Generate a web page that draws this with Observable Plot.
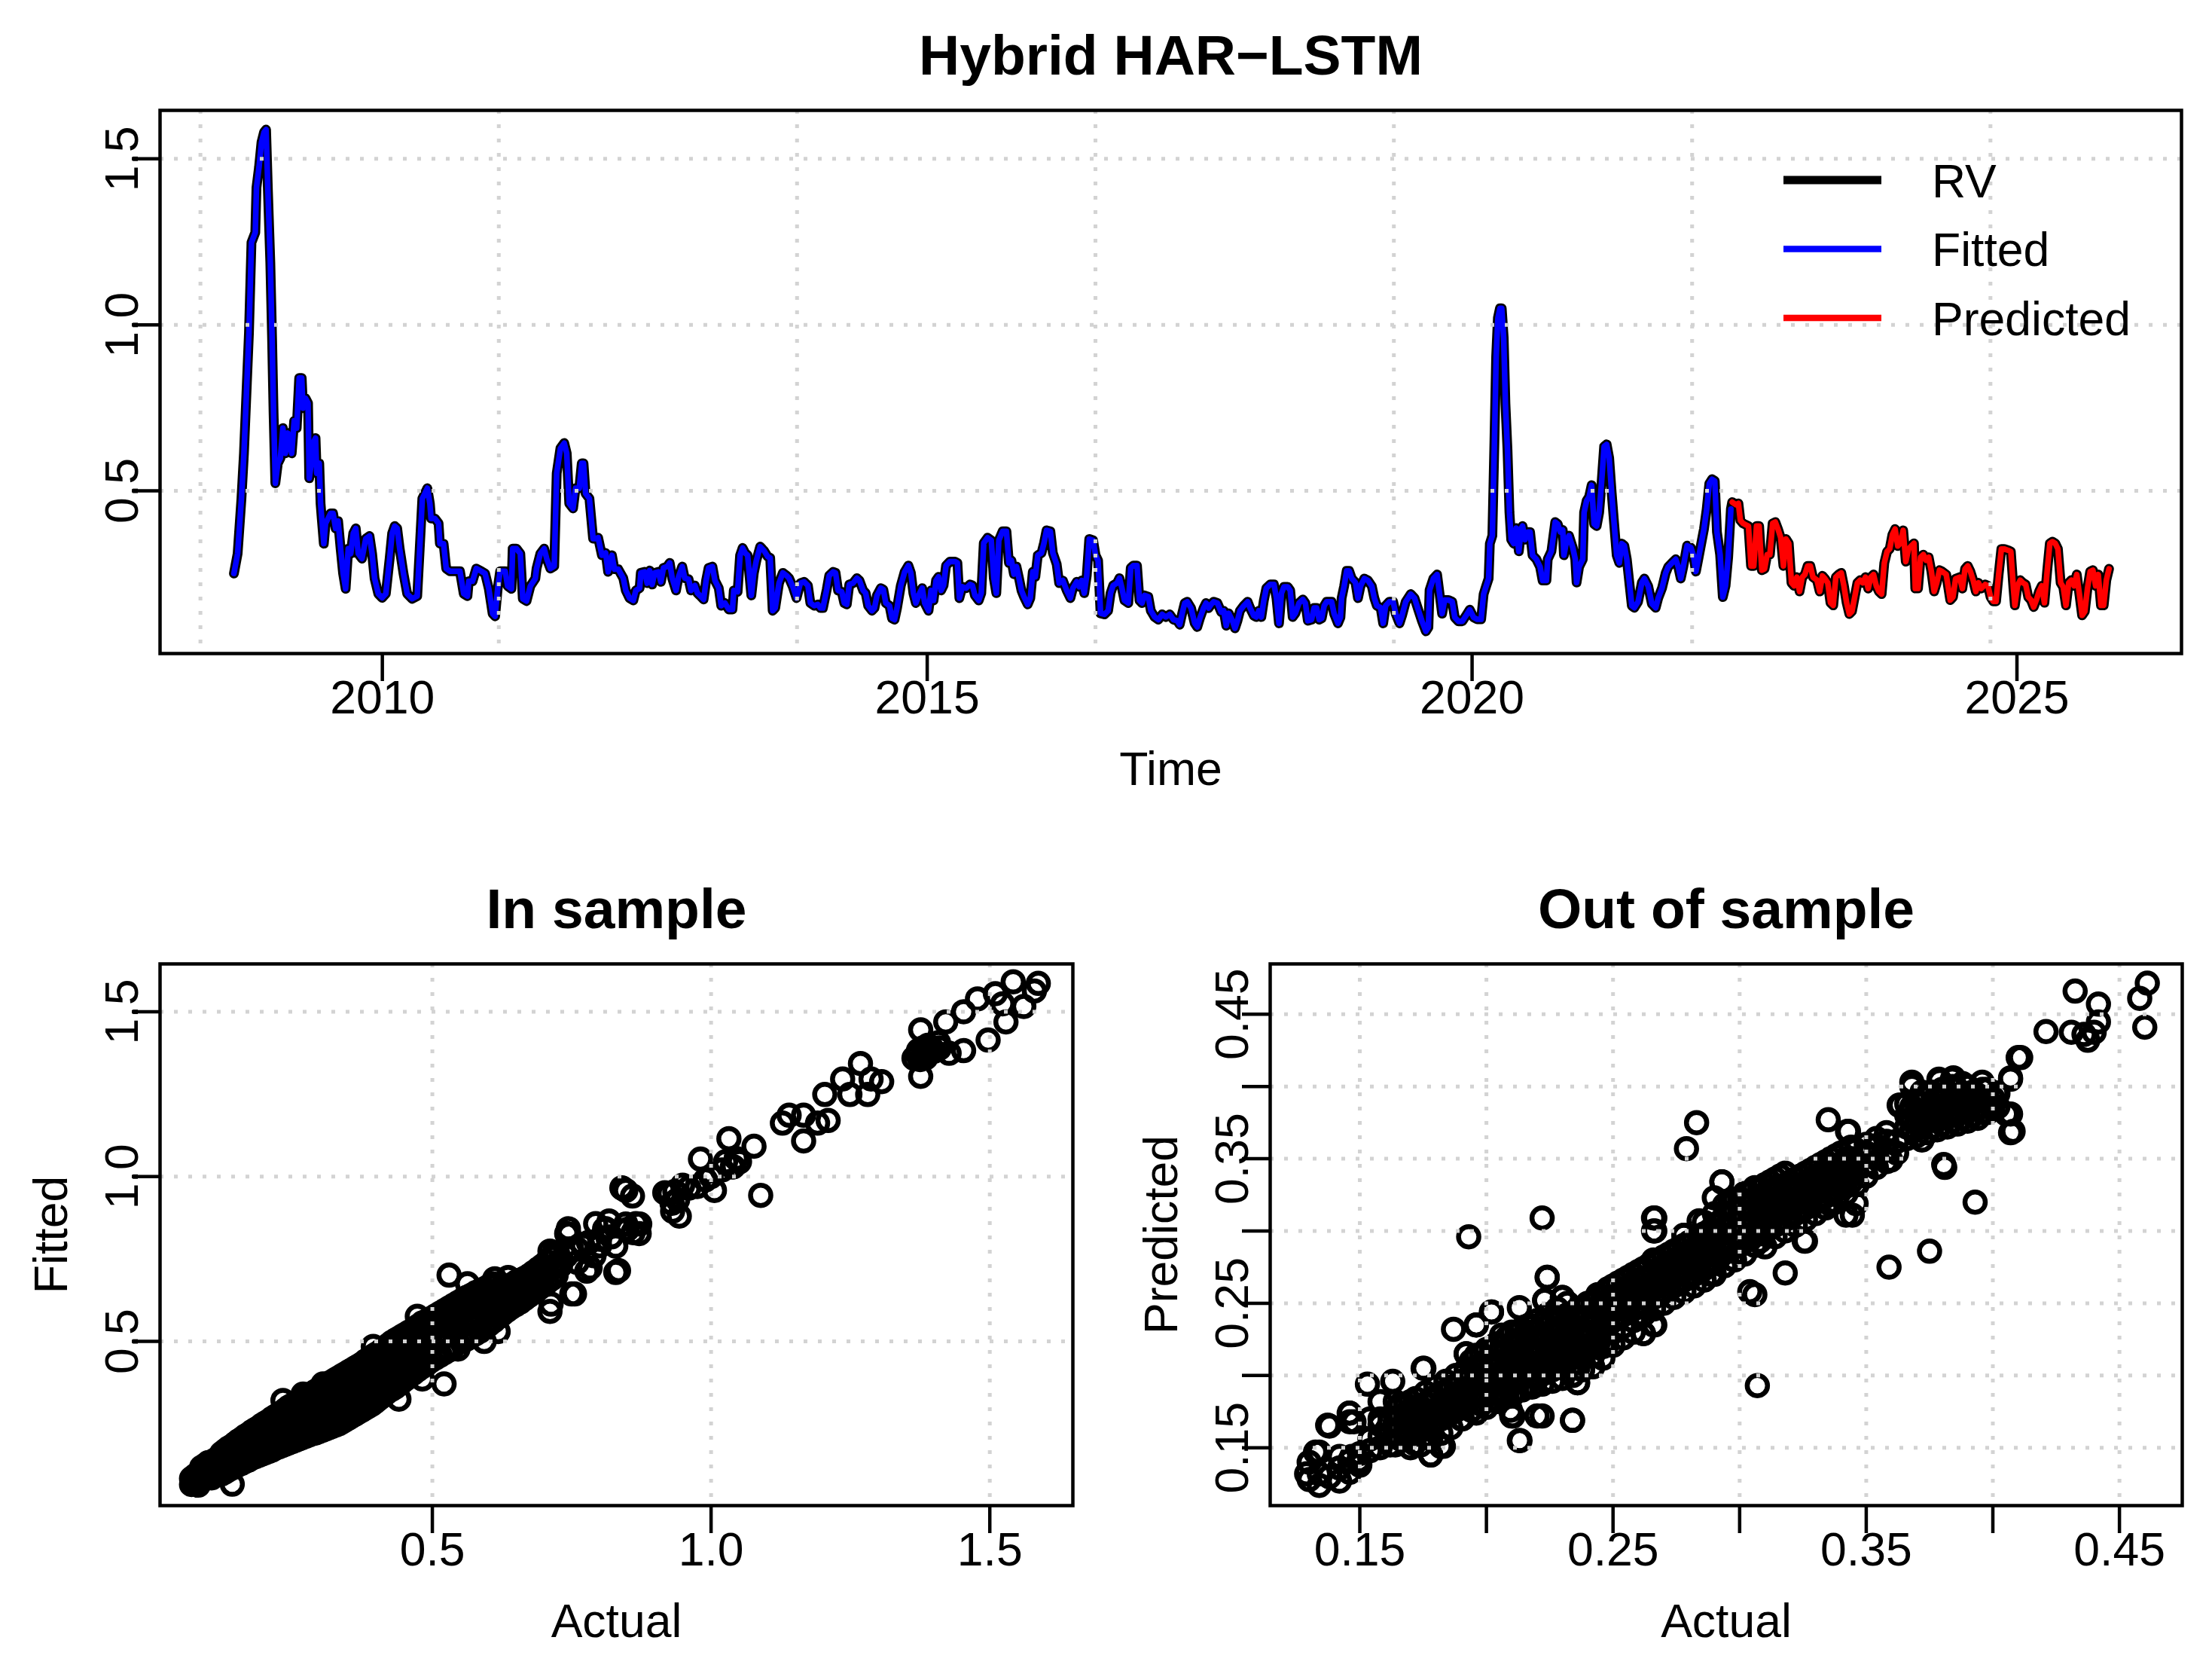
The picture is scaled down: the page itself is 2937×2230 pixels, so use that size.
<!DOCTYPE html>
<html><head><meta charset="utf-8">
<script src="https://cdn.jsdelivr.net/npm/d3@7"></script>
<script src="https://cdn.jsdelivr.net/npm/@observablehq/plot@0.6"></script>
<style>
html,body{margin:0;padding:0;background:#fff;}
#page{position:relative;width:2937px;height:2230px;background:#fff;overflow:hidden;}
.panel{position:absolute;}
.panel svg{max-width:none !important;display:block;}
</style></head><body><div id="page">
<div id="top" class="panel" style="left:0;top:0;width:2937px;height:1100px"></div>
<div id="bl" class="panel" style="left:0;top:1100px;width:1480px;height:1130px"></div>
<div id="br" class="panel" style="left:1480px;top:1100px;width:1457px;height:1130px"></div>
</div>
<script>
// ---------- text ----------
const mainTitle = "Hybrid HAR\u2212LSTM";
const inTitle = "In sample";
const outTitle = "Out of sample";
const legendLabels = ["RV", "Fitted", "Predicted"];
const legendColors = ["black", "#0000FF", "#FF0000"];

// ---------- ticks ----------
const timeTicks = [2010, 2015, 2020, 2025];
const gridDays = [14000, 15000, 16000, 17000, 18000, 19000, 20000]; // R Date grid (days since 1970)
const rvTicks = [0.5, 1.0, 1.5];
const oosTicks = [0.15, 0.20, 0.25, 0.30, 0.35, 0.40, 0.45];
const oosLabeled = [0.15, 0.25, 0.35, 0.45];

// ---------- time series: [decimal year, RV] (fitted / predicted follow RV at this scale) ----------
const inSampleRV = [
[2008.638,0.251],[2008.672,0.311],[2008.707,0.477],[2008.730,0.613],[2008.753,0.795],[2008.776,0.976],[2008.799,1.248],[2008.834,1.278],[2008.845,1.414],[2008.868,1.474],[2008.891,1.550],[2008.914,1.580],[2008.933,1.588],[2008.949,1.414],[2008.972,1.187],[2008.988,0.961],[2009.002,0.734],[2009.018,0.523],[2009.041,0.583],[2009.064,0.598],[2009.087,0.689],[2009.110,0.613],[2009.133,0.674],[2009.168,0.613],[2009.191,0.711],[2009.214,0.689],[2009.237,0.840],[2009.260,0.840],[2009.272,0.749],[2009.295,0.779],[2009.318,0.764],[2009.329,0.538],[2009.348,0.583],[2009.364,0.644],[2009.387,0.659],[2009.398,0.553],[2009.421,0.583],[2009.433,0.462],[2009.444,0.417],[2009.463,0.341],[2009.479,0.402],[2009.502,0.417],[2009.525,0.432],[2009.548,0.432],[2009.571,0.387],[2009.594,0.409],[2009.617,0.326],[2009.640,0.251],[2009.663,0.205],[2009.687,0.326],[2009.710,0.311],[2009.733,0.372],[2009.756,0.387],[2009.779,0.311],[2009.813,0.296],[2009.848,0.356],[2009.882,0.364],[2009.906,0.311],[2009.929,0.236],[2009.963,0.190],[2009.998,0.178],[2010.032,0.190],[2010.067,0.296],[2010.090,0.372],[2010.113,0.394],[2010.136,0.387],[2010.159,0.326],[2010.194,0.251],[2010.228,0.190],[2010.274,0.175],[2010.320,0.183],[2010.343,0.326],[2010.367,0.477],[2010.390,0.492],[2010.413,0.508],[2010.436,0.462],[2010.447,0.417],[2010.482,0.417],[2010.516,0.402],[2010.528,0.341],[2010.562,0.341],[2010.586,0.266],[2010.620,0.258],[2010.666,0.258],[2010.712,0.258],[2010.747,0.190],[2010.781,0.183],[2010.793,0.228],[2010.828,0.228],[2010.862,0.266],[2010.908,0.258],[2010.943,0.251],[2010.977,0.205],[2011.012,0.130],[2011.035,0.122],[2011.058,0.205],[2011.081,0.258],[2011.127,0.258],[2011.150,0.213],[2011.185,0.205],[2011.196,0.326],[2011.231,0.326],[2011.266,0.311],[2011.289,0.175],[2011.323,0.168],[2011.358,0.213],[2011.404,0.236],[2011.415,0.266],[2011.450,0.311],[2011.485,0.326],[2011.508,0.296],[2011.542,0.266],[2011.577,0.273],[2011.600,0.553],[2011.634,0.628],[2011.669,0.644],[2011.692,0.613],[2011.715,0.462],[2011.750,0.447],[2011.773,0.508],[2011.807,0.508],[2011.830,0.583],[2011.846,0.583],[2011.865,0.492],[2011.900,0.477],[2011.934,0.356],[2011.957,0.356],
[2011.980,0.359],[2012.015,0.306],[2012.049,0.313],[2012.072,0.256],[2012.107,0.306],[2012.130,0.264],[2012.165,0.264],[2012.211,0.237],[2012.234,0.200],[2012.268,0.177],[2012.303,0.170],[2012.326,0.200],[2012.361,0.207],[2012.372,0.253],[2012.407,0.256],[2012.430,0.222],[2012.453,0.260],[2012.476,0.218],[2012.499,0.253],[2012.533,0.256],[2012.556,0.226],[2012.580,0.268],[2012.614,0.272],[2012.637,0.283],[2012.660,0.237],[2012.695,0.200],[2012.718,0.241],[2012.752,0.272],[2012.775,0.237],[2012.810,0.234],[2012.833,0.200],[2012.868,0.215],[2012.891,0.192],[2012.914,0.185],[2012.948,0.173],[2012.971,0.230],[2012.994,0.268],[2013.029,0.272],[2013.052,0.230],[2013.087,0.207],[2013.110,0.154],[2013.144,0.162],[2013.179,0.143],[2013.213,0.143],[2013.225,0.200],[2013.260,0.196],[2013.283,0.306],[2013.306,0.328],[2013.329,0.313],[2013.352,0.306],[2013.386,0.185],[2013.409,0.253],[2013.432,0.290],[2013.467,0.332],[2013.502,0.320],[2013.536,0.302],[2013.559,0.298],[2013.582,0.139],[2013.605,0.147],[2013.640,0.222],[2013.675,0.253],[2013.709,0.245],[2013.732,0.237],[2013.767,0.211],[2013.801,0.177],[2013.836,0.222],[2013.870,0.226],[2013.905,0.215],[2013.928,0.162],[2013.963,0.154],[2013.997,0.158],[2014.020,0.147],[2014.043,0.147],[2014.078,0.203],[2014.101,0.245],[2014.136,0.256],[2014.159,0.253],[2014.182,0.200],[2014.216,0.196],[2014.239,0.162],[2014.262,0.158],[2014.285,0.218],[2014.320,0.222],[2014.355,0.237],[2014.378,0.230],[2014.412,0.200],[2014.435,0.192],[2014.458,0.154],[2014.493,0.139],[2014.516,0.147],[2014.539,0.185],[2014.574,0.207],[2014.597,0.203],[2014.620,0.162],[2014.654,0.154],[2014.677,0.116],[2014.700,0.112],[2014.723,0.147],[2014.758,0.215],[2014.793,0.256],[2014.827,0.275],[2014.850,0.253],[2014.873,0.192],[2014.896,0.162],[2014.931,0.192],[2014.954,0.207],[2014.977,0.162],[2015.012,0.139],[2015.035,0.200],[2015.058,0.170],[2015.081,0.230],[2015.104,0.241],[2015.127,0.200],[2015.150,0.215],[2015.173,0.275],[2015.208,0.287],[2015.254,0.287],
[2015.277,0.283],[2015.295,0.177],[2015.323,0.211],[2015.358,0.207],[2015.392,0.218],[2015.415,0.215],[2015.438,0.185],[2015.473,0.170],[2015.496,0.192],[2015.519,0.343],[2015.554,0.359],[2015.588,0.351],[2015.611,0.237],[2015.634,0.192],[2015.657,0.351],[2015.692,0.378],[2015.727,0.378],[2015.750,0.283],[2015.773,0.290],[2015.796,0.249],[2015.819,0.272],[2015.842,0.237],[2015.865,0.200],[2015.888,0.181],[2015.922,0.158],[2015.946,0.177],[2015.969,0.256],[2015.992,0.241],[2016.015,0.306],[2016.049,0.313],[2016.072,0.343],[2016.095,0.381],[2016.130,0.378],[2016.153,0.313],[2016.188,0.279],[2016.211,0.222],[2016.245,0.230],[2016.280,0.200],[2016.314,0.177],[2016.337,0.207],[2016.372,0.226],[2016.395,0.211],[2016.418,0.230],[2016.441,0.192],[2016.464,0.245],[2016.487,0.355],[2016.522,0.351],[2016.545,0.306],[2016.568,0.290],[2016.591,0.131],[2016.626,0.128],[2016.660,0.139],[2016.683,0.192],[2016.706,0.215],[2016.741,0.222],[2016.764,0.237],[2016.787,0.207],[2016.810,0.170],[2016.845,0.162],[2016.868,0.268],[2016.891,0.275],[2016.925,0.275],[2016.948,0.170],[2016.971,0.162],[2016.994,0.185],[2017.029,0.181],[2017.052,0.139],[2017.087,0.120],[2017.121,0.112],[2017.156,0.128],[2017.190,0.120],[2017.225,0.128],[2017.260,0.112],[2017.294,0.109],[2017.317,0.097],[2017.340,0.131],[2017.363,0.162],[2017.386,0.166],[2017.421,0.147],[2017.455,0.101],[2017.478,0.090],[2017.502,0.116],[2017.536,0.147],[2017.559,0.162],[2017.582,0.147],[2017.605,0.158],[2017.628,0.166],[2017.663,0.162],[2017.698,0.135],[2017.721,0.139],[2017.744,0.094],[2017.767,0.131],[2017.801,0.109],[2017.824,0.086],[2017.847,0.109],[2017.870,0.139],[2017.905,0.154],[2017.940,0.166],[2017.963,0.147],[2017.997,0.124],[2018.020,0.120],[2018.043,0.139],[2018.066,0.120],[2018.089,0.170],[2018.112,0.207],[2018.147,0.218],[2018.182,0.218],[2018.205,0.177],[2018.228,0.101],[2018.251,0.192],[2018.274,0.211],[2018.308,0.211],[2018.331,0.200],[2018.354,0.120],[2018.378,0.131],[2018.412,0.162],[2018.447,0.173],[2018.470,0.162],[2018.493,0.109],[2018.527,0.112],[2018.550,0.147],[2018.573,0.147],[2018.597,0.112],[2018.620,0.116],[2018.643,0.154],
[2018.665,0.166],[2018.711,0.166],[2018.734,0.130],[2018.769,0.101],[2018.792,0.119],[2018.803,0.177],[2018.826,0.213],[2018.849,0.259],[2018.872,0.259],[2018.896,0.236],[2018.930,0.224],[2018.953,0.177],[2018.976,0.213],[2019.011,0.236],[2019.045,0.230],[2019.080,0.213],[2019.103,0.177],[2019.126,0.154],[2019.161,0.148],[2019.184,0.101],[2019.207,0.154],[2019.241,0.166],[2019.276,0.166],[2019.299,0.130],[2019.334,0.101],[2019.357,0.124],[2019.391,0.166],[2019.437,0.189],[2019.472,0.177],[2019.506,0.142],[2019.541,0.107],[2019.576,0.077],[2019.599,0.089],[2019.610,0.201],[2019.645,0.236],[2019.679,0.248],[2019.702,0.189],[2019.725,0.130],[2019.748,0.171],[2019.783,0.171],[2019.818,0.166],[2019.841,0.119],[2019.875,0.107],[2019.910,0.107],[2019.944,0.124],[2019.979,0.142],[2020.014,0.119],[2020.048,0.113],[2020.083,0.113],[2020.106,0.189],[2020.129,0.213],[2020.152,0.236],[2020.163,0.341],[2020.186,0.365],[2020.205,0.646],[2020.221,0.904],[2020.237,1.021],[2020.256,1.050],[2020.272,1.050],[2020.290,0.962],[2020.306,0.763],[2020.325,0.623],[2020.343,0.435],[2020.359,0.353],[2020.382,0.341],[2020.405,0.388],[2020.429,0.318],[2020.452,0.388],[2020.463,0.394],[2020.486,0.353],[2020.509,0.376],[2020.532,0.376],[2020.555,0.306],[2020.590,0.294],[2020.624,0.271],[2020.647,0.230],[2020.682,0.230],[2020.694,0.294],[2020.728,0.318],[2020.763,0.406],[2020.786,0.400],[2020.809,0.376],[2020.832,0.382],[2020.843,0.306],[2020.866,0.347],[2020.889,0.365],[2020.924,0.329],[2020.947,0.294],[2020.959,0.224],[2020.982,0.271],[2021.016,0.294],[2021.028,0.435],[2021.051,0.470],[2021.074,0.482],[2021.097,0.517],[2021.120,0.400],[2021.143,0.394],[2021.166,0.435],[2021.189,0.528],[2021.212,0.634],[2021.235,0.640],[2021.258,0.599],[2021.281,0.494],[2021.304,0.400],[2021.327,0.306],[2021.351,0.283],[2021.374,0.341],[2021.397,0.335],[2021.420,0.294],[2021.443,0.224],[2021.466,0.154],[2021.489,0.148],[2021.523,0.166],[2021.558,0.224],[2021.581,0.236],[2021.616,0.213],[2021.650,0.160],[2021.685,0.148],[2021.708,0.177],[2021.743,0.207],[2021.777,0.253],[2021.800,0.271],[2021.835,0.283],[2021.869,0.294],[2021.892,0.271],[2021.915,0.236],[2021.938,0.271],[2021.973,0.335],[2022.008,0.329],[2022.031,0.306],
[2022.054,0.257],[2022.079,0.300],[2022.103,0.342],[2022.128,0.385],[2022.153,0.445],[2022.177,0.522],[2022.202,0.535],[2022.227,0.530],[2022.247,0.376],[2022.276,0.308],[2022.301,0.180],[2022.326,0.214],[2022.350,0.300],[2022.375,0.445]
];

const outSampleRV = [
[2022.387,0.466],[2022.424,0.458],[2022.444,0.462],[2022.462,0.411],[2022.486,0.402],[2022.511,0.398],[2022.536,0.394],[2022.560,0.274],[2022.585,0.274],[2022.610,0.394],[2022.634,0.394],[2022.659,0.261],[2022.684,0.265],[2022.708,0.308],[2022.733,0.308],[2022.758,0.402],[2022.783,0.406],[2022.807,0.385],[2022.832,0.359],[2022.857,0.274],[2022.881,0.355],[2022.906,0.342],[2022.931,0.223],[2022.955,0.214],[2022.980,0.240],[2023.005,0.197],[2023.030,0.240],[2023.054,0.248],[2023.079,0.274],[2023.104,0.274],[2023.128,0.240],[2023.165,0.231],[2023.190,0.197],[2023.215,0.244],[2023.239,0.235],[2023.264,0.223],[2023.289,0.163],[2023.314,0.155],[2023.338,0.240],[2023.363,0.248],[2023.388,0.253],[2023.412,0.214],[2023.437,0.163],[2023.462,0.129],[2023.486,0.137],[2023.511,0.180],[2023.536,0.223],[2023.561,0.231],[2023.585,0.223],[2023.610,0.240],[2023.635,0.206],[2023.659,0.240],[2023.684,0.248],[2023.709,0.214],[2023.733,0.197],[2023.758,0.189],[2023.783,0.283],[2023.808,0.317],[2023.832,0.325],[2023.857,0.368],[2023.882,0.385],[2023.906,0.334],[2023.931,0.342],[2023.956,0.381],[2023.980,0.287],[2024.005,0.325],[2024.030,0.334],[2024.055,0.342],[2024.067,0.206],[2024.092,0.206],[2024.116,0.300],[2024.141,0.308],[2024.166,0.291],[2024.190,0.300],[2024.215,0.257],[2024.240,0.197],[2024.264,0.223],[2024.289,0.261],[2024.314,0.257],[2024.351,0.248],[2024.388,0.171],[2024.413,0.180],[2024.437,0.235],[2024.474,0.240],[2024.499,0.206],[2024.524,0.265],[2024.548,0.274],[2024.573,0.257],[2024.598,0.231],[2024.623,0.197],[2024.647,0.223],[2024.672,0.206],[2024.709,0.218],[2024.734,0.214],[2024.758,0.180],[2024.783,0.167],[2024.808,0.167],[2024.832,0.248],[2024.857,0.325],[2024.882,0.325],[2024.919,0.321],[2024.944,0.317],[2024.968,0.206],[2024.981,0.155],[2025.005,0.214],[2025.030,0.231],[2025.055,0.223],[2025.080,0.218],[2025.104,0.180],[2025.129,0.171],[2025.154,0.150],[2025.178,0.171],[2025.203,0.197],[2025.228,0.214],[2025.252,0.163],[2025.277,0.257],[2025.302,0.342],[2025.326,0.347],[2025.351,0.342],[2025.376,0.325],[2025.401,0.223],[2025.425,0.210],[2025.450,0.155],[2025.475,0.223],[2025.499,0.231],[2025.524,0.214],[2025.549,0.248],[2025.573,0.189],[2025.598,0.125],[2025.623,0.137],[2025.647,0.206],[2025.672,0.257],[2025.697,0.261],[2025.722,0.214],[2025.746,0.248],[2025.771,0.155],[2025.796,0.155],[2025.820,0.231],[2025.845,0.265]
];

// ---------- in-sample scatter: [actual, fitted] ----------
const inSamplePoints = [
[0.068,0.066],[0.068,0.084],[0.074,0.072],[0.074,0.092],[0.074,0.070],[0.080,0.078],[0.080,0.098],[0.080,0.064],
[0.086,0.080],[0.086,0.100],[0.086,0.118],[0.092,0.084],[0.092,0.106],[0.092,0.124],[0.098,0.090],[0.098,0.112],[0.098,0.132],
[0.104,0.086],[0.104,0.108],[0.104,0.130],[0.110,0.094],[0.110,0.116],[0.110,0.140],[0.116,0.100],[0.116,0.122],[0.116,0.146],
[0.122,0.098],[0.122,0.120],[0.122,0.142],[0.122,0.160],[0.128,0.104],[0.128,0.128],[0.128,0.150],[0.128,0.168],
[0.134,0.110],[0.134,0.132],[0.134,0.156],[0.134,0.176],[0.140,0.116],[0.140,0.138],[0.140,0.162],[0.140,0.182],[0.141,0.067],
[0.146,0.120],[0.146,0.144],[0.146,0.168],[0.146,0.190],[0.152,0.126],[0.152,0.150],[0.152,0.174],[0.152,0.198],
[0.158,0.130],[0.158,0.154],[0.158,0.178],[0.158,0.204],[0.164,0.136],[0.164,0.160],[0.164,0.184],[0.164,0.212],
[0.170,0.140],[0.170,0.164],[0.170,0.190],[0.170,0.218],[0.176,0.146],[0.176,0.170],[0.176,0.196],[0.176,0.226],
[0.182,0.150],[0.182,0.176],[0.182,0.202],[0.182,0.232],[0.188,0.154],[0.188,0.180],[0.188,0.208],[0.188,0.238],
[0.194,0.158],[0.194,0.186],[0.194,0.214],[0.194,0.246],[0.200,0.162],[0.200,0.190],[0.200,0.220],[0.200,0.252],
[0.206,0.166],[0.206,0.196],[0.206,0.226],[0.206,0.258],[0.212,0.170],[0.212,0.200],[0.212,0.232],[0.212,0.266],
[0.218,0.176],[0.218,0.206],[0.218,0.238],[0.218,0.272],[0.224,0.180],[0.224,0.212],[0.224,0.244],[0.224,0.278],
[0.230,0.184],[0.230,0.216],[0.230,0.250],[0.230,0.284],[0.232,0.321],[0.236,0.188],[0.236,0.222],[0.236,0.256],[0.236,0.292],
[0.242,0.192],[0.242,0.226],[0.242,0.262],[0.242,0.300],[0.248,0.196],[0.248,0.232],[0.248,0.268],[0.248,0.306],
[0.254,0.200],[0.254,0.236],[0.254,0.274],[0.254,0.312],[0.260,0.204],[0.260,0.242],[0.260,0.280],[0.260,0.318],
[0.266,0.208],[0.266,0.246],[0.266,0.286],[0.266,0.324],[0.268,0.340],[0.272,0.212],[0.272,0.252],[0.272,0.292],[0.272,0.330],
[0.278,0.216],[0.278,0.256],[0.278,0.296],[0.278,0.336],[0.284,0.220],[0.284,0.262],[0.284,0.302],[0.284,0.342],
[0.290,0.222],[0.290,0.266],[0.290,0.308],[0.290,0.348],[0.296,0.226],[0.296,0.270],[0.296,0.314],[0.296,0.354],
[0.302,0.230],[0.302,0.276],[0.302,0.320],[0.302,0.362],[0.304,0.371],[0.308,0.234],[0.308,0.280],[0.308,0.324],[0.308,0.366],
[0.314,0.238],[0.314,0.284],[0.314,0.330],[0.314,0.372],[0.320,0.242],[0.320,0.290],[0.320,0.336],[0.320,0.378],
[0.326,0.246],[0.326,0.294],[0.326,0.342],[0.326,0.384],[0.332,0.250],[0.332,0.300],[0.332,0.348],[0.332,0.390],
[0.338,0.256],[0.338,0.304],[0.338,0.352],[0.338,0.396],[0.344,0.262],[0.344,0.310],[0.344,0.358],[0.344,0.402],
[0.350,0.268],[0.350,0.316],[0.350,0.364],[0.350,0.408],[0.356,0.274],[0.356,0.322],[0.356,0.370],[0.356,0.414],
[0.362,0.280],[0.362,0.328],[0.362,0.376],[0.362,0.420],[0.368,0.286],[0.368,0.334],[0.368,0.382],[0.368,0.426],
[0.374,0.292],[0.374,0.340],[0.374,0.388],[0.374,0.432],[0.380,0.298],[0.380,0.346],[0.380,0.394],[0.380,0.440],
[0.386,0.304],[0.386,0.352],[0.386,0.400],[0.386,0.446],[0.392,0.310],[0.392,0.358],[0.392,0.406],[0.392,0.454],[0.394,0.485],
[0.398,0.318],[0.398,0.364],[0.398,0.412],[0.398,0.460],[0.404,0.326],[0.404,0.372],[0.404,0.420],[0.404,0.466],
[0.410,0.334],[0.410,0.380],[0.410,0.428],[0.410,0.474],[0.416,0.342],[0.416,0.388],[0.416,0.436],[0.416,0.482],
[0.422,0.350],[0.422,0.396],[0.422,0.444],[0.422,0.490],[0.428,0.356],[0.428,0.402],[0.428,0.450],[0.428,0.498],
[0.434,0.362],[0.434,0.410],[0.434,0.458],[0.434,0.504],[0.440,0.325],[0.440,0.370],[0.440,0.418],[0.440,0.466],[0.440,0.510],
[0.446,0.378],[0.446,0.426],[0.446,0.474],[0.446,0.516],[0.452,0.386],[0.452,0.434],[0.452,0.482],[0.452,0.522],
[0.458,0.394],[0.458,0.442],[0.458,0.490],[0.458,0.528],[0.466,0.404],[0.466,0.452],[0.466,0.498],[0.466,0.536],
[0.474,0.414],[0.474,0.462],[0.474,0.508],[0.474,0.546],[0.473,0.576],[0.482,0.424],[0.482,0.472],[0.482,0.518],[0.482,0.556],[0.482,0.386],
[0.490,0.432],[0.490,0.480],[0.490,0.526],[0.490,0.562],[0.498,0.442],[0.498,0.490],[0.498,0.534],[0.498,0.570],
[0.506,0.450],[0.506,0.498],[0.506,0.542],[0.506,0.578],[0.514,0.458],[0.514,0.506],[0.514,0.550],[0.514,0.586],
[0.521,0.371],[0.522,0.466],[0.522,0.514],[0.522,0.558],[0.522,0.594],[0.530,0.474],[0.530,0.522],[0.530,0.566],[0.530,0.602],[0.530,0.701],
[0.538,0.484],[0.538,0.530],[0.538,0.574],[0.538,0.610],[0.546,0.477],[0.546,0.540],[0.546,0.582],[0.546,0.618],
[0.554,0.500],[0.554,0.548],[0.554,0.590],[0.554,0.626],[0.563,0.675],[0.562,0.508],[0.562,0.556],[0.562,0.598],[0.562,0.634],
[0.570,0.516],[0.570,0.564],[0.570,0.606],[0.570,0.640],[0.578,0.524],[0.578,0.572],[0.578,0.614],[0.578,0.648],
[0.586,0.532],[0.586,0.580],[0.586,0.622],[0.586,0.654],[0.593,0.500],[0.594,0.542],[0.594,0.588],[0.594,0.630],[0.594,0.660],
[0.602,0.552],[0.602,0.596],[0.602,0.638],[0.602,0.668],[0.612,0.690],[0.610,0.562],[0.610,0.604],[0.610,0.646],[0.610,0.674],
[0.618,0.530],[0.618,0.574],[0.618,0.612],[0.618,0.654],[0.626,0.584],[0.626,0.620],[0.626,0.660],[0.636,0.694],
[0.634,0.594],[0.634,0.628],[0.634,0.666],[0.642,0.604],[0.642,0.636],[0.642,0.672],[0.650,0.612],[0.650,0.644],[0.650,0.680],
[0.658,0.620],[0.658,0.652],[0.658,0.686],[0.666,0.630],[0.666,0.660],[0.666,0.692],[0.674,0.640],[0.674,0.668],[0.674,0.700],
[0.682,0.650],[0.682,0.678],[0.682,0.710],[0.690,0.660],[0.690,0.688],[0.690,0.720],[0.698,0.670],[0.698,0.698],[0.698,0.730],
[0.706,0.680],[0.706,0.710],[0.706,0.742],[0.711,0.591],[0.711,0.774],[0.714,0.690],[0.714,0.720],[0.714,0.754],[0.713,0.613],
[0.722,0.700],[0.722,0.732],[0.722,0.766],[0.719,0.770],[0.730,0.745],[0.730,0.730],[0.741,0.827],[0.744,0.842],[0.745,0.825],[0.750,0.644],
[0.740,0.760],[0.750,0.780],[0.755,0.644],[0.760,0.740],[0.760,0.780],[0.770,0.790],[0.777,0.713],[0.780,0.800],[0.783,0.723],[0.790,0.760],
[0.793,0.857],[0.800,0.790],[0.800,0.810],[0.809,0.841],[0.811,0.842],[0.817,0.865],[0.821,0.817],[0.829,0.789],[0.829,0.709],[0.834,0.715],
[0.841,0.964],[0.847,0.856],[0.847,0.958],[0.850,0.840],[0.859,0.941],[0.860,0.830],[0.865,0.857],[0.871,0.827],[0.872,0.856],[0.840,0.966],
[0.917,0.951],[0.925,0.948],[0.930,0.919],[0.931,0.895],[0.935,0.955],[0.940,0.930],[0.943,0.880],[0.949,0.974],[0.960,0.965],[0.975,0.970],
[0.981,1.053],[0.990,0.990],[1.000,1.000],[1.006,0.958],[1.020,1.020],[1.026,1.045],[1.032,1.115],[1.038,1.029],[1.040,1.030],[1.045,1.055],
[1.051,1.045],[1.077,1.092],[1.089,0.943],[1.128,1.162],[1.140,1.186],[1.166,1.186],[1.166,1.108],[1.191,1.162],[1.204,1.249],[1.210,1.170],
[1.236,1.296],[1.249,1.249],[1.268,1.343],[1.281,1.249],[1.287,1.296],[1.306,1.288],[1.364,1.359],[1.370,1.370],[1.372,1.382],[1.375,1.355],
[1.376,1.304],[1.376,1.445],[1.380,1.390],[1.383,1.367],[1.385,1.360],[1.389,1.398],[1.390,1.375],[1.395,1.390],[1.400,1.380],[1.408,1.406],
[1.410,1.390],[1.421,1.469],[1.427,1.374],[1.453,1.500],[1.453,1.382],[1.478,1.539],[1.497,1.414],[1.510,1.555],[1.523,1.524],[1.529,1.469],
[1.542,1.591],[1.561,1.516],[1.580,1.563],[1.587,1.586]
];

// ---------- out-of-sample scatter: [actual, predicted] ----------
const outSamplePoints = [
[0.130,0.128],[0.130,0.140],[0.134,0.124],[0.134,0.132],[0.134,0.147],[0.138,0.130],[0.138,0.165],[0.142,0.127],[0.142,0.136],[0.142,0.144],
[0.146,0.133],[0.146,0.141],[0.146,0.168],[0.146,0.174],[0.150,0.138],[0.150,0.146],[0.153,0.194],[0.154,0.148],[0.154,0.156],[0.154,0.170],
[0.158,0.150],[0.158,0.158],[0.158,0.166],[0.158,0.182],[0.162,0.152],[0.162,0.160],[0.162,0.168],[0.163,0.196],
[0.166,0.156],[0.166,0.164],[0.166,0.172],[0.166,0.180],[0.170,0.150],[0.170,0.158],[0.170,0.166],[0.170,0.174],[0.170,0.182],
[0.174,0.152],[0.174,0.162],[0.174,0.170],[0.174,0.178],[0.175,0.205],[0.178,0.145],[0.178,0.156],[0.178,0.166],[0.178,0.174],[0.178,0.184],
[0.182,0.151],[0.182,0.160],[0.182,0.170],[0.182,0.178],[0.182,0.188],[0.186,0.164],[0.186,0.174],[0.186,0.182],[0.186,0.192],[0.187,0.232],
[0.190,0.170],[0.190,0.178],[0.190,0.186],[0.190,0.196],[0.192,0.215],[0.194,0.176],[0.194,0.184],[0.194,0.192],[0.194,0.200],[0.194,0.210],[0.196,0.235],[0.193,0.296],
[0.198,0.180],[0.198,0.188],[0.198,0.196],[0.198,0.204],[0.198,0.214],[0.202,0.184],[0.202,0.192],[0.202,0.200],[0.202,0.208],[0.202,0.218],[0.202,0.244],
[0.206,0.186],[0.206,0.194],[0.206,0.202],[0.206,0.210],[0.206,0.220],[0.206,0.228],[0.210,0.172],[0.210,0.186],[0.210,0.196],[0.210,0.204],[0.210,0.212],[0.210,0.222],[0.210,0.230],
[0.213,0.155],[0.214,0.190],[0.214,0.198],[0.214,0.206],[0.214,0.214],[0.214,0.224],[0.214,0.232],[0.213,0.247],
[0.218,0.192],[0.218,0.200],[0.218,0.208],[0.218,0.216],[0.218,0.226],[0.218,0.234],
[0.222,0.172],[0.222,0.194],[0.222,0.202],[0.222,0.210],[0.222,0.218],[0.222,0.228],[0.222,0.236],[0.223,0.252],[0.222,0.309],
[0.226,0.196],[0.226,0.204],[0.226,0.212],[0.226,0.220],[0.226,0.230],[0.226,0.238],[0.224,0.268],
[0.230,0.198],[0.230,0.206],[0.230,0.214],[0.230,0.222],[0.230,0.232],[0.230,0.240],[0.230,0.254],
[0.234,0.169],[0.234,0.200],[0.234,0.208],[0.234,0.216],[0.234,0.224],[0.234,0.234],[0.234,0.242],
[0.236,0.195],[0.238,0.204],[0.238,0.212],[0.238,0.220],[0.238,0.228],[0.238,0.238],[0.238,0.246],
[0.242,0.206],[0.242,0.214],[0.242,0.222],[0.242,0.230],[0.242,0.240],[0.242,0.250],[0.244,0.256],
[0.246,0.212],[0.246,0.220],[0.246,0.228],[0.246,0.236],[0.246,0.244],[0.246,0.254],
[0.250,0.221],[0.250,0.230],[0.250,0.238],[0.250,0.246],[0.250,0.254],[0.250,0.262],
[0.254,0.226],[0.254,0.234],[0.254,0.242],[0.254,0.250],[0.254,0.258],[0.254,0.266],
[0.258,0.230],[0.258,0.238],[0.258,0.246],[0.258,0.254],[0.258,0.262],[0.258,0.270],
[0.262,0.229],[0.262,0.242],[0.262,0.250],[0.262,0.258],[0.262,0.266],[0.262,0.274],
[0.266,0.235],[0.266,0.246],[0.266,0.254],[0.266,0.262],[0.266,0.270],[0.266,0.280],[0.266,0.300],[0.266,0.309],
[0.270,0.250],[0.270,0.258],[0.270,0.264],[0.270,0.274],[0.270,0.282],[0.274,0.254],[0.274,0.262],[0.274,0.270],[0.274,0.278],[0.274,0.286],
[0.278,0.258],[0.278,0.266],[0.278,0.274],[0.278,0.282],[0.278,0.290],[0.278,0.297],[0.279,0.357],
[0.282,0.262],[0.282,0.270],[0.282,0.278],[0.282,0.286],[0.282,0.294],[0.283,0.375],
[0.286,0.266],[0.286,0.274],[0.286,0.282],[0.286,0.290],[0.286,0.298],[0.286,0.306],
[0.290,0.270],[0.290,0.280],[0.290,0.288],[0.290,0.296],[0.290,0.304],[0.290,0.312],[0.290,0.323],
[0.294,0.276],[0.294,0.286],[0.294,0.294],[0.294,0.302],[0.294,0.310],[0.294,0.318],[0.293,0.334],
[0.298,0.280],[0.298,0.290],[0.298,0.298],[0.298,0.306],[0.298,0.314],[0.298,0.322],
[0.302,0.284],[0.302,0.294],[0.302,0.302],[0.302,0.310],[0.302,0.318],[0.302,0.326],
[0.304,0.258],[0.306,0.256],[0.306,0.290],[0.306,0.298],[0.306,0.306],[0.306,0.314],[0.306,0.322],[0.306,0.330],[0.307,0.193],
[0.310,0.289],[0.310,0.300],[0.310,0.308],[0.310,0.316],[0.310,0.324],[0.310,0.332],
[0.314,0.296],[0.314,0.304],[0.314,0.312],[0.314,0.320],[0.314,0.328],[0.314,0.336],
[0.318,0.271],[0.318,0.300],[0.318,0.308],[0.318,0.316],[0.318,0.324],[0.318,0.332],[0.318,0.340],
[0.322,0.304],[0.322,0.312],[0.322,0.320],[0.322,0.328],[0.322,0.336],
[0.326,0.293],[0.326,0.308],[0.326,0.316],[0.326,0.324],[0.326,0.332],[0.326,0.340],
[0.330,0.312],[0.330,0.320],[0.330,0.328],[0.330,0.336],[0.330,0.344],
[0.334,0.316],[0.334,0.324],[0.334,0.332],[0.334,0.340],[0.334,0.348],[0.335,0.377],
[0.338,0.320],[0.338,0.328],[0.338,0.336],[0.338,0.344],[0.338,0.352],
[0.342,0.311],[0.342,0.326],[0.342,0.334],[0.342,0.342],[0.342,0.350],[0.343,0.369],
[0.346,0.319],[0.346,0.332],[0.346,0.340],[0.346,0.348],[0.346,0.356],
[0.350,0.338],[0.350,0.346],[0.350,0.354],[0.350,0.360],[0.354,0.344],[0.354,0.352],[0.354,0.358],[0.354,0.364],
[0.358,0.348],[0.358,0.356],[0.358,0.362],[0.358,0.368],[0.359,0.275],[0.362,0.354],[0.362,0.362],[0.363,0.387],
[0.366,0.364],[0.366,0.372],[0.366,0.380],[0.366,0.388],[0.370,0.366],[0.370,0.374],[0.370,0.382],[0.370,0.390],[0.368,0.400],
[0.374,0.368],[0.374,0.376],[0.374,0.384],[0.374,0.392],[0.375,0.286],[0.378,0.370],[0.378,0.378],[0.378,0.386],[0.378,0.394],[0.379,0.404],
[0.382,0.372],[0.382,0.380],[0.382,0.388],[0.382,0.396],[0.381,0.344],[0.386,0.374],[0.386,0.382],[0.386,0.390],[0.386,0.398],[0.384,0.405],
[0.390,0.376],[0.390,0.384],[0.390,0.392],[0.390,0.400],[0.394,0.378],[0.394,0.386],[0.394,0.394],[0.393,0.320],
[0.398,0.382],[0.398,0.390],[0.398,0.398],[0.402,0.386],[0.402,0.395],[0.407,0.368],[0.407,0.381],[0.407,0.405],
[0.410,0.420],[0.421,0.438],[0.431,0.4375],[0.4325,0.466],[0.436,0.436],[0.4375,0.432],[0.440,0.4375],[0.4417,0.457],[0.4417,0.4447],[0.458,0.461],[0.460,0.441],[0.461,0.4715],
[0.192,0.215],[0.2095,0.176],[0.220,0.172],[0.234,0.169],[0.236,0.195],[0.236,0.205],[0.223,0.252],[0.224,0.268],[0.230,0.254],[0.2475,0.221],
[0.262,0.229],[0.2665,0.235],[0.261,0.272],[0.2665,0.309],[0.2665,0.300],[0.270,0.264],[0.278,0.297],[0.284,0.307],[0.289,0.270],[0.293,0.334],
[0.297,0.2805],[0.308,0.293],[0.3255,0.293],[0.335,0.3195],[0.3445,0.311],[0.3426,0.369],[0.3597,0.349],[0.3806,0.346],[0.3635,0.387],[0.372,0.363],
[0.354,0.359],[0.3464,0.332],[0.129,0.132],[0.1325,0.147],[0.1468,0.144],[0.1496,0.141],[0.1477,0.168],[0.1373,0.1656],[0.1458,0.174],[0.158,0.170],
[0.164,0.182],[0.1715,0.153],[0.178,0.145],[0.183,0.151],[0.1753,0.205],[0.179,0.168],[0.1905,0.170],[0.1867,0.178],[0.196,0.235],[0.202,0.244],
[0.2105,0.172],[0.2133,0.155],[0.219,0.193],[0.408,0.369],[0.411,0.420],[0.407,0.406],[0.368,0.403],[0.3787,0.405],[0.3844,0.406],[0.3958,0.403],[0.4015,0.3955],[0.4053,0.381]
];

// dense cores of the out-of-sample cloud (read as solid black areas)
const outSampleCore = [
[0.164,0.152],[0.164,0.160],[0.164,0.168],[0.164,0.176],[0.168,0.156],[0.168,0.164],[0.168,0.172],[0.168,0.180],
[0.172,0.160],[0.172,0.168],[0.172,0.176],[0.172,0.184],[0.176,0.164],[0.176,0.172],[0.176,0.180],[0.176,0.188],
[0.180,0.168],[0.180,0.176],[0.180,0.184],[0.180,0.192],[0.184,0.172],[0.184,0.180],[0.184,0.188],[0.184,0.196],
[0.188,0.176],[0.188,0.184],[0.188,0.192],[0.188,0.200],[0.192,0.180],[0.192,0.188],[0.192,0.196],[0.192,0.204],
[0.196,0.174],[0.196,0.182],[0.196,0.190],[0.196,0.198],[0.196,0.206],[0.196,0.214],
[0.200,0.178],[0.200,0.186],[0.200,0.194],[0.200,0.202],[0.200,0.210],[0.200,0.218],
[0.204,0.182],[0.204,0.190],[0.204,0.198],[0.204,0.206],[0.204,0.214],[0.204,0.222],
[0.208,0.186],[0.208,0.194],[0.208,0.202],[0.208,0.210],[0.208,0.218],[0.208,0.226],
[0.212,0.190],[0.212,0.198],[0.212,0.206],[0.212,0.214],[0.212,0.222],[0.212,0.230],
[0.216,0.194],[0.216,0.202],[0.216,0.210],[0.216,0.218],[0.216,0.226],[0.216,0.234],
[0.220,0.198],[0.220,0.206],[0.220,0.214],[0.220,0.222],[0.220,0.230],[0.220,0.238],
[0.224,0.202],[0.224,0.210],[0.224,0.218],[0.224,0.226],[0.224,0.234],[0.224,0.242],
[0.228,0.206],[0.228,0.214],[0.228,0.222],[0.228,0.230],[0.228,0.238],[0.228,0.246],
[0.232,0.210],[0.232,0.218],[0.232,0.226],[0.232,0.234],[0.232,0.242],[0.232,0.250],
[0.236,0.214],[0.236,0.222],[0.236,0.230],[0.236,0.238],[0.236,0.246],
[0.240,0.218],[0.240,0.226],[0.240,0.234],[0.240,0.242],[0.240,0.250],
[0.244,0.222],[0.244,0.230],[0.244,0.238],[0.244,0.246],[0.244,0.254],
[0.248,0.236],[0.248,0.244],[0.248,0.252],[0.248,0.260],[0.252,0.240],[0.252,0.248],[0.252,0.256],[0.252,0.264],
[0.256,0.244],[0.256,0.252],[0.256,0.260],[0.256,0.268],[0.260,0.248],[0.260,0.256],[0.260,0.264],[0.260,0.272],
[0.264,0.252],[0.264,0.260],[0.264,0.268],[0.264,0.276],[0.268,0.256],[0.268,0.264],[0.268,0.272],[0.268,0.280],
[0.272,0.260],[0.272,0.268],[0.272,0.276],[0.272,0.284],[0.276,0.264],[0.276,0.272],[0.276,0.280],[0.276,0.288],
[0.280,0.268],[0.280,0.276],[0.280,0.284],[0.280,0.292],[0.284,0.272],[0.284,0.280],[0.284,0.288],[0.284,0.296],
[0.288,0.276],[0.288,0.284],[0.288,0.292],[0.288,0.300],[0.292,0.282],[0.292,0.290],[0.292,0.298],[0.292,0.306],
[0.296,0.286],[0.296,0.294],[0.296,0.302],[0.296,0.310],[0.296,0.318],[0.300,0.290],[0.300,0.298],[0.300,0.306],[0.300,0.314],[0.300,0.322],
[0.304,0.294],[0.304,0.302],[0.304,0.310],[0.304,0.318],[0.304,0.326],[0.308,0.298],[0.308,0.306],[0.308,0.314],[0.308,0.322],[0.308,0.330],
[0.312,0.302],[0.312,0.310],[0.312,0.318],[0.312,0.326],[0.312,0.334],[0.316,0.306],[0.316,0.314],[0.316,0.322],[0.316,0.330],[0.316,0.338],
[0.320,0.310],[0.320,0.318],[0.320,0.326],[0.320,0.334],[0.324,0.314],[0.324,0.322],[0.324,0.330],[0.324,0.338],
[0.328,0.318],[0.328,0.326],[0.328,0.334],[0.328,0.342],[0.332,0.322],[0.332,0.330],[0.332,0.338],[0.332,0.346],
[0.336,0.326],[0.336,0.334],[0.336,0.342],[0.336,0.350],[0.340,0.330],[0.340,0.338],[0.340,0.346],[0.340,0.354],
[0.344,0.334],[0.344,0.342],[0.344,0.350],[0.344,0.358],
[0.368,0.370],[0.368,0.378],[0.368,0.386],[0.372,0.372],[0.372,0.380],[0.372,0.388],[0.372,0.396],
[0.376,0.372],[0.376,0.380],[0.376,0.388],[0.376,0.396],[0.380,0.374],[0.380,0.382],[0.380,0.390],[0.380,0.398],
[0.384,0.376],[0.384,0.384],[0.384,0.392],[0.384,0.400],[0.388,0.378],[0.388,0.386],[0.388,0.394],[0.388,0.402],
[0.392,0.380],[0.392,0.388],[0.392,0.396],[0.396,0.382],[0.396,0.390],[0.396,0.398],[0.400,0.384],[0.400,0.392]
];

// ---------- shared styling ----------
const FONT = "'Liberation Sans', Arial, Helvetica, sans-serif";
const svgStyle = {fontFamily: FONT, fontSize: "62.5px", background: "white", color: "black", overflow: "visible"};
const gridStyle = {stroke: "#D3D3D3", strokeWidth: 5, strokeDasharray: "5,14"};
const dotStyle = {r: 13.5, stroke: "black", strokeWidth: 6.5, fill: "none"};
const TICK = 37;
const yearOfDay = d => {
  const dt = new Date(d * 864e5), y = dt.getUTCFullYear();
  return y + (dt - Date.UTC(y, 0, 1)) / (Date.UTC(y + 1, 0, 1) - Date.UTC(y, 0, 1));
};
const gridYears = gridDays.map(yearOfDay);
const fmt1 = d => d.toFixed(1);
const fmtOos = d => oosLabeled.some(l => Math.abs(l - d) < 1e-9) ? d.toFixed(2) : "";

function axes(xTicks, yTicks, xFmt, yFmt) {
  return [
    Plot.frame({stroke: "black", strokeWidth: 4.5}),
    Plot.axisX(xTicks, {tickSize: TICK, tickPadding: -2, tickFormat: xFmt, strokeWidth: 4.5, label: null}),
    Plot.axisY(yTicks, {tickSize: TICK, tickPadding: -7, tickRotate: -90, tickFormat: yFmt, strokeWidth: 4.5, label: null})
  ];
}
function titles(main, xlab, ylab) {
  const m = [
    Plot.text([main], {frameAnchor: "top", dy: -48, lineAnchor: "bottom", fontWeight: "bold", fontSize: 75}),
    Plot.text([xlab], {frameAnchor: "bottom", dy: 174, lineAnchor: "bottom"})
  ];
  if (ylab) m.push(Plot.text([ylab], {frameAnchor: "left", dx: -124, rotate: -90, lineAnchor: "bottom", textAnchor: "middle"}));
  return m;
}

// ---------- top: time series ----------
const allRV = inSampleRV.concat(outSampleRV);
const topPlot = Plot.plot({
  width: 2937, height: 1100,
  marginLeft: 212, marginRight: 41, marginTop: 146, marginBottom: 233,
  x: {domain: [2007.96, 2026.51]},
  y: {domain: [0.010, 1.646]},
  style: svgStyle,
  marks: [
    Plot.line(allRV, {x: d => d[0], y: d => d[1], stroke: "black", strokeWidth: 13}),
    Plot.line(inSampleRV, {x: d => d[0], y: d => d[1], stroke: legendColors[1], strokeWidth: 7.5}),
    Plot.line(outSampleRV, {x: d => d[0], y: d => d[1], stroke: legendColors[2], strokeWidth: 7.5}),
    Plot.ruleX(gridYears, gridStyle),
    Plot.ruleY(rvTicks, gridStyle),
    ...axes(timeTicks, rvTicks, d => String(d), fmt1),
    ...titles(mainTitle, "Time", null)
  ]
});
document.getElementById("top").appendChild(topPlot);

// legend (top-right, no box)
const lg = d3.select("#page").append("svg")
  .attr("width", 2937).attr("height", 1100)
  .style("position", "absolute").style("left", "0px").style("top", "0px").style("pointer-events", "none");
const legendWidths = [11, 8.5, 8.5];
legendLabels.forEach((lab, i) => {
  const y = 239 + i * 91.5;
  lg.append("line").attr("x1", 2368).attr("x2", 2498).attr("y1", y).attr("y2", y)
    .attr("stroke", legendColors[i]).attr("stroke-width", legendWidths[i]);
  lg.append("text").attr("x", 2565).attr("y", y).attr("dy", "0.36em")
    .style("font-family", FONT).style("font-size", "62.5px").attr("fill", "black").text(lab);
});

// ---------- bottom-left: in sample ----------
const blPlot = Plot.plot({
  width: 1480, height: 1130,
  marginLeft: 212, marginRight: 56, marginTop: 179, marginBottom: 232,
  x: {domain: [0.0115, 1.649]},
  y: {domain: [0.002, 1.645]},
  style: svgStyle,
  marks: [
    Plot.dot(inSamplePoints, {x: d => d[0], y: d => d[1], ...dotStyle}),
    Plot.ruleX(rvTicks, gridStyle),
    Plot.ruleY(rvTicks, gridStyle),
    ...axes(rvTicks, rvTicks, fmt1, fmt1),
    ...titles(inTitle, "Actual", "Fitted")
  ]
});
document.getElementById("bl").appendChild(blPlot);

// ---------- bottom-right: out of sample ----------
const brPlot = Plot.plot({
  width: 1457, height: 1130,
  marginLeft: 206, marginRight: 40, marginTop: 179, marginBottom: 232,
  x: {domain: [0.1146, 0.4748]},
  y: {domain: [0.110, 0.4848]},
  style: svgStyle,
  marks: [
    Plot.dot(outSamplePoints.concat(outSampleCore), {x: d => d[0], y: d => d[1], ...dotStyle}),
    Plot.ruleX(oosTicks, gridStyle),
    Plot.ruleY(oosTicks, gridStyle),
    ...axes(oosTicks, oosTicks, fmtOos, fmtOos),
    ...titles(outTitle, "Actual", "Predicted")
  ]
});
document.getElementById("br").appendChild(brPlot);
</script>
</body></html>
